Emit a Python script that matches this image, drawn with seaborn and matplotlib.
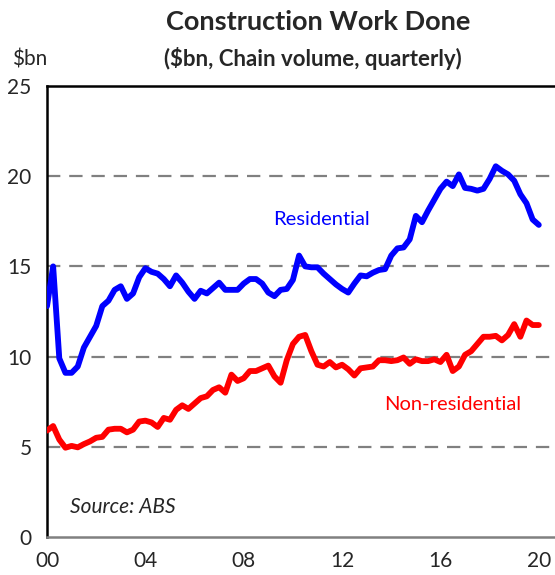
import matplotlib
matplotlib.use("Agg")
import matplotlib.pyplot as plt
import numpy as np
import pandas as pd
import seaborn as sns

# quarterly, Mar-2000 .. Mar-2020 ($bn, chain volume)
residential = [12.8, 15.0, 9.9, 9.1, 9.1, 9.45, 10.5, 11.1, 11.7, 12.8,
               13.1, 13.7, 13.9, 13.2, 13.5, 14.4, 14.9, 14.7, 14.6, 14.3,
               13.9, 14.5, 14.1, 13.6, 13.2, 13.65, 13.5, 13.8, 14.1, 13.7,
               13.7, 13.7, 14.05, 14.3, 14.3, 14.05, 13.55, 13.35, 13.7, 13.75,
               14.25, 15.6, 15.0, 14.95, 14.95, 14.6, 14.3, 14.0, 13.75, 13.55,
               14.05, 14.5, 14.45, 14.65, 14.8, 14.85, 15.6, 16.0, 16.05, 16.5,
               17.8, 17.45, 18.1, 18.7, 19.3, 19.7, 19.45, 20.1, 19.35, 19.3,
               19.2, 19.3, 19.85, 20.55, 20.3, 20.1, 19.75, 19.0, 18.5, 17.6,
               17.3]
non_residential = [5.9, 6.15, 5.4, 4.95, 5.05, 4.97, 5.15, 5.3, 5.5, 5.55,
                   5.95, 6.0, 6.0, 5.8, 5.95, 6.4, 6.45, 6.35, 6.1, 6.6,
                   6.5, 7.05, 7.3, 7.1, 7.4, 7.7, 7.8, 8.15, 8.3, 8.0,
                   9.0, 8.65, 8.8, 9.2, 9.2, 9.35, 9.5, 8.9, 8.55, 9.8,
                   10.7, 11.1, 11.2, 10.3, 9.55, 9.45, 9.7, 9.4, 9.55, 9.3,
                   8.95, 9.35, 9.4, 9.45, 9.8, 9.8, 9.75, 9.8, 9.95, 9.6,
                   9.85, 9.75, 9.75, 9.85, 9.7, 10.1, 9.2, 9.45, 10.1, 10.3,
                   10.7, 11.1, 11.1, 11.15, 10.9, 11.2, 11.8, 11.1, 12.0, 11.75,
                   11.75]
year_ticks = [0, 4, 8, 12, 16, 20]
year_labels = ["00", "04", "08", "12", "16", "20"]
y_ticks = [0, 5, 10, 15, 20, 25]

years = np.arange(len(residential)) / 4
df = pd.DataFrame({
    "year": np.concatenate([years, years]),
    "value": residential + non_residential,
    "series": ["Residential"] * len(years) + ["Non-residential"] * len(years),
})

sns.set_style("white")
plt.rcParams["font.family"] = ["Lato", "DejaVu Sans"]

fig = plt.figure(figsize=(5.55, 5.75), dpi=100)
ax = fig.add_axes([47 / 555, 1 - 537 / 575, 510 / 555, (537 - 86) / 575])

# dashed gridlines behind the data
for v in [5, 10, 15, 20]:
    ax.axhline(v, color="#808080", lw=1.6, ls=(0, (6, 4)), zorder=1)

sns.lineplot(data=df, x="year", y="value", hue="series",
             palette={"Residential": "#0000ff", "Non-residential": "#ff0000"},
             linewidth=4.2, legend=False, ax=ax, zorder=3)

ax.set_xlim(0, 20.74)
ax.set_ylim(0, 25)
ax.set_xticks(year_ticks)
ax.set_xticklabels(year_labels)
ax.set_yticks(y_ticks)
ax.set_xlabel("")
ax.set_ylabel("")
ax.tick_params(axis="x", direction="in", length=6, width=1.5, color="#808080",
               labelsize=15, pad=10)
ax.tick_params(axis="y", length=0, labelsize=15, pad=11)

for s in ["left", "top"]:
    ax.spines[s].set_color("black")
    ax.spines[s].set_linewidth(1.8)
ax.spines["bottom"].set_color("#808080")
ax.spines["bottom"].set_linewidth(1.8)
ax.spines["right"].set_visible(False)

ax.text(9.2, 17.3, "Residential", color="#0000ff", fontsize=14.5)
ax.text(13.7, 7.05, "Non-residential", color="#ff0000", fontsize=14.5)
ax.text(0.95, 1.33, "Source: ABS", fontsize=15, style="italic")

fig.text(318 / 555, 1 - 22 / 575, "Construction Work Done", ha="center",
         va="center", fontsize=19.5, fontweight="bold")
fig.text(313 / 555, 1 - 58 / 575, "($bn, Chain volume, quarterly)",
         ha="center", va="center", fontsize=16, fontweight="bold")
fig.text(12 / 555, 1 - 60 / 575, "$bn", ha="left", va="center", fontsize=15)

fig.savefig("out.png", dpi=100)
